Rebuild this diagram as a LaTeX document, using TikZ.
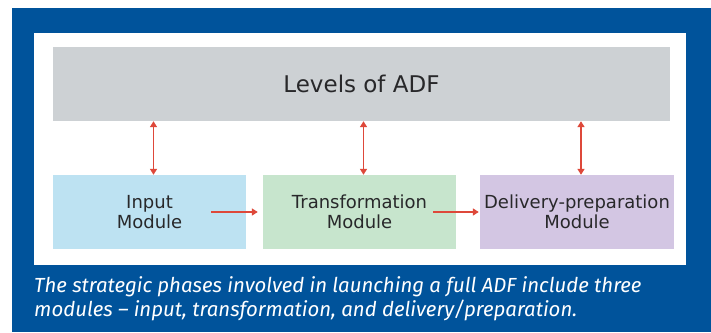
\documentclass[tikz,border=0pt]{standalone}
\usepackage{fontspec}
\setmainfont{DejaVu Sans}
\newfontfamily\captionFont{Fira Sans}
\usetikzlibrary{arrows.meta}
\definecolor{frameBlue}{RGB}{0,83,155}
\definecolor{levelGray}{RGB}{205,209,212}
\definecolor{inputBlue}{RGB}{189,226,242}
\definecolor{transGreen}{RGB}{199,229,205}
\definecolor{deliveryPurple}{RGB}{211,198,227}
\definecolor{arrowRed}{RGB}{222,72,58}
\definecolor{labelGray}{RGB}{40,40,42}

\begin{document}
\begin{tikzpicture}[%
  x=1pt,y=-1pt,%
  moduleStyle/.style={minimum width=193pt,minimum height=74pt,inner sep=0pt,%
    align=center,text=labelGray,font=\fontsize{18}{20}\selectfont},%
  linkStyle/.style={draw=arrowRed,line width=1.6pt,%
    -{Triangle[length=6pt,width=7pt]}},%
  twoWayStyle/.style={linkStyle,{Triangle[length=6pt,width=7pt]}-{Triangle[length=6pt,width=7pt]}}%
]
%
% Page, blue frame and white panel.
\useasboundingbox (0,0) rectangle (711,332);
\fill[white] (0,0) rectangle (711,332);
\fill[frameBlue] (12,8) rectangle (711,332);
\fill[white] (34,33) rectangle (686,265);
%
% Top level and the three modules.
\node[moduleStyle,fill=levelGray,minimum width=617pt,%
  font=\fontsize{23}{26}\selectfont] (levels) at (361.5,84) {Levels of ADF};
\node[moduleStyle,fill=inputBlue] (input) at (149.5,212) {Input\\Module};
\node[moduleStyle,fill=transGreen] (trans) at (359.5,212) {Transformation\\Module};
\node[moduleStyle,fill=deliveryPurple,minimum width=194pt] (delivery) at (577,212)
  {Delivery-preparation\\Module};
%
% Links between the levels and each module.
\foreach \mod in {input,trans,delivery}{%
  \draw[twoWayStyle] ([xshift=4pt]\mod.north |- levels.south) -- ([xshift=4pt]\mod.north);
}
\draw[linkStyle] ([xshift=-35pt]input.east) -- ([xshift=-5pt]trans.west);
\draw[linkStyle] ([xshift=-23pt]trans.east) -- ([xshift=-1pt]delivery.west);
%
% Caption under the panel.
\node[anchor=north west,inner sep=0pt,align=left,text=white,%
  font=\captionFont\itshape\fontsize{20.4}{24}\selectfont] (caption) at (34,276)
  {The strategic phases involved in launching a full ADF include three\\
   modules \textendash{} input, transformation, and delivery/preparation.};
\end{tikzpicture}
\end{document}
